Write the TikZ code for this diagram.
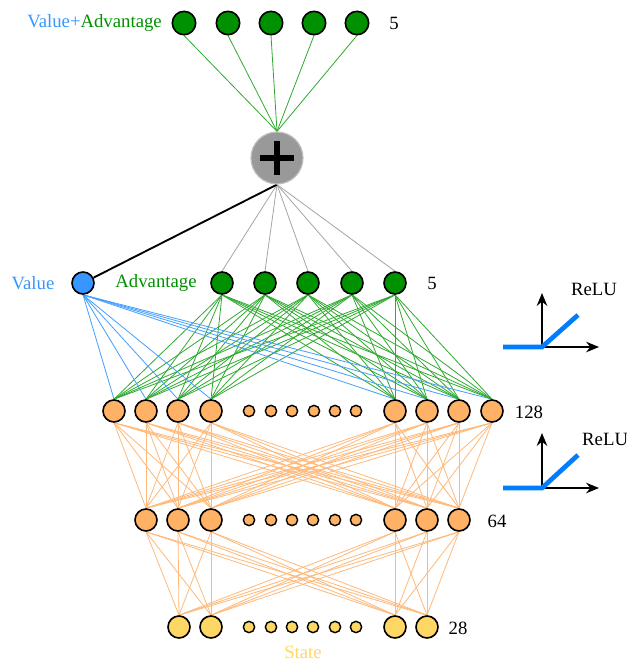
\documentclass[tikz,border=0pt]{standalone}
\usepackage{fontspec}
\setmainfont{Liberation Serif}
\usetikzlibrary{arrows.meta,backgrounds}

\definecolor{advgreen}{RGB}{0,145,0}
\definecolor{advline}{RGB}{50,170,50}
\definecolor{valblue}{RGB}{55,150,255}
\definecolor{valline}{RGB}{70,160,255}
\definecolor{hidorange}{RGB}{255,178,102}
\definecolor{hidline}{RGB}{255,185,122}
\definecolor{stateyel}{RGB}{255,215,100}
\definecolor{relublue}{RGB}{0,125,255}

\tikzset{
  unit/.style={circle, draw=black, line width=1.4pt, inner sep=0pt, minimum size=0.66cm},
  dot/.style={circle, draw=black, line width=1.2pt, inner sep=0pt, minimum size=0.34cm},
  lbl/.style={font=\fontsize{16}{19}\selectfont, inner sep=0pt},
  wire/.style={line width=0.7pt},
  axis/.style={line width=1.4pt, -{Stealth[length=11pt,width=9pt]}},
  relu/.style={relublue, line width=4pt}
}

\begin{document}
\begin{tikzpicture}[x=0.03cm,y=-0.03cm]
\useasboundingbox (0,0) rectangle (627,662);

% output layer
\foreach \i/\x in {1/184,2/228,3/271,4/314,5/357}
  \node[unit, fill=advgreen, minimum size=0.7cm] (q\i) at (\x,23) {};
\node[lbl, anchor=east] (qlab) at (162,23) {\textcolor{valblue}{Value+}\textcolor{advgreen}{Advantage}};
\node[lbl] (qnum) at (394,23) {5};

% sum
\node[circle, fill=black!40, draw=black!25, line width=1pt, minimum size=1.56cm, inner sep=0pt] (plus) at (277,158) {};
\draw[line width=5pt] ([xshift=-0.5cm]plus.center) -- ([xshift=0.5cm]plus.center);
\draw[line width=5pt] ([yshift=-0.5cm]plus.center) -- ([yshift=0.5cm]plus.center);

% value / advantage
\node[unit, fill=valblue] (v) at (83,283) {};
\node[lbl, text=valblue] (vlab) at (33,283) {Value};
\foreach \i/\x in {1/222,2/265,3/308,4/352,5/395}
  \node[unit, fill=advgreen] (a\i) at (\x,283) {};
\node[lbl, text=advgreen] (alab) at (156,283) {Advantage};
\node[lbl] (anum) at (432,283) {5};

% 128 layer
\foreach \i/\x in {1/114,2/146,3/178,4/211,5/395,6/427,7/459,8/492}
  \node[unit, fill=hidorange] (p\i) at (\x,411) {};
\foreach \i/\x in {1/249,2/271,3/292,4/314,5/335,6/356}
  \node[dot, fill=hidorange] (pd\i) at (\x,411) {};
\node[lbl] (pnum) at (529,412) {128};

% 64 layer
\foreach \i/\x in {1/146,2/178,3/211,4/395,5/427,6/459}
  \node[unit, fill=hidorange] (m\i) at (\x,520) {};
\foreach \i/\x in {1/249,2/271,3/292,4/313,5/335,6/356}
  \node[dot, fill=hidorange] (md\i) at (\x,520) {};
\node[lbl] (mnum) at (497,521) {64};

% 28 layer
\foreach \i/\x in {1/179,2/211,3/395,4/427}
  \node[unit, fill=stateyel] (s\i) at (\x,627) {};
\foreach \i/\x in {1/249,2/271,3/292,4/313,5/335,6/356}
  \node[dot, fill=stateyel] (sd\i) at (\x,627) {};
\node[lbl] (snum) at (458,628) {28};
\node[lbl, text=stateyel] (slab) at (303,652) {State};

% connections
\begin{scope}[on background layer]
  \foreach \i in {1,...,5} {
    \draw[wire, advline] (q\i.south) -- (plus.north);
    \draw[wire, black!35] (plus.south) -- (a\i.north);
  }
  \draw[line width=1.6pt] (plus.south) -- (v);
  \foreach \j in {1,...,8} {
    \draw[wire, valline] (v.south) -- (p\j.north);
    \foreach \i in {1,...,5}
      \draw[wire, advline] (a\i.south) -- (p\j.north);
    \foreach \k in {1,...,6}
      \draw[wire, hidline] (p\j.south) -- (m\k.north);
  }
  \foreach \k in {1,...,6}
    \foreach \l in {1,...,4}
      \draw[wire, hidline] (m\k.south) -- (s\l.north);
\end{scope}

% activation sketches
\draw[axis] (542,347) -- (542,293);
\draw[axis] (542,347) -- (599,347);
\draw[relu] (503,347) -- (542,347) -- (578,315);
\node[lbl] (relu1) at (594,289) {ReLU};

\draw[axis] (542,488) -- (542,433);
\draw[axis] (542,488) -- (599,488);
\draw[relu] (503,488) -- (542,488) -- (578,455);
\node[lbl, anchor=west] (relu2) at (582,439) {ReLU};
\end{tikzpicture}
\end{document}
